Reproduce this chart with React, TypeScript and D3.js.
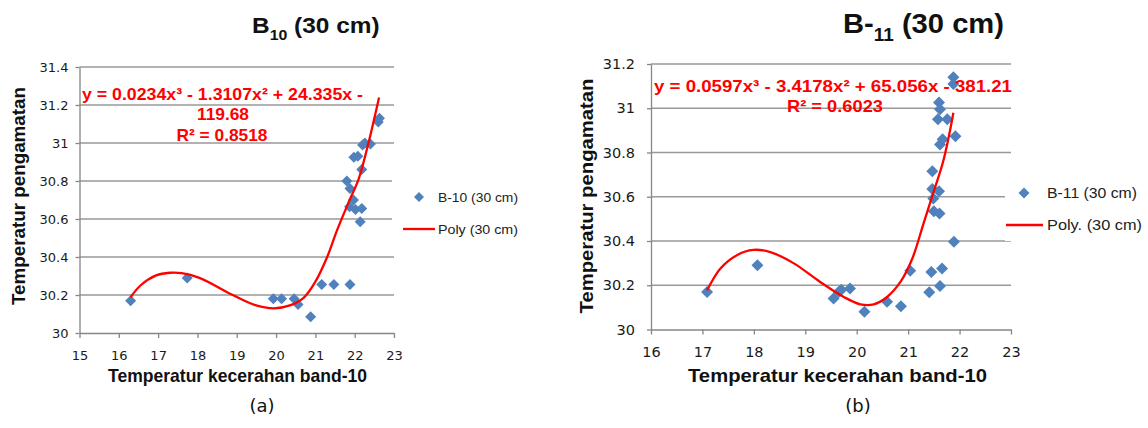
import React, { useEffect, useRef } from "react";
import { axisBottom, axisLeft, curveCatmullRom, line, scaleLinear, select } from "d3";

// ---- data ----
const X_TICKS_10 = [15, 16, 17, 18, 19, 20, 21, 22, 23];
const Y_TICKS_10 = [30, 30.2, 30.4, 30.6, 30.8, 31, 31.2, 31.4];
const X_TICKS_11 = [16, 17, 18, 19, 20, 21, 22, 23];
const Y_TICKS_11 = [30, 30.2, 30.4, 30.6, 30.8, 31, 31.2];

const B10: [number, number][] = [
  [16.3, 30.17], [17.74, 30.29], [19.93, 30.18], [20.14, 30.18], [20.46, 30.18],
  [20.56, 30.15], [20.88, 30.085], [21.16, 30.255], [21.47, 30.255], [21.88, 30.255],
  [21.8, 30.8], [21.88, 30.76], [21.97, 30.7], [21.87, 30.665], [22.02, 30.65],
  [22.18, 30.655], [22.14, 30.585], [22.18, 30.86], [21.98, 30.925], [22.08, 30.93],
  [22.2, 30.99], [22.26, 31.0], [22.4, 30.995], [22.6, 31.11], [22.63, 31.13],
];

const POLY10: [number, number][] = [
  [16.3, 30.188], [16.55, 30.25], [16.95, 30.303], [17.3, 30.317], [17.6, 30.315],
  [18.05, 30.29], [18.9, 30.2], [19.45, 30.148], [19.95, 30.13], [20.35, 30.145],
  [20.7, 30.185], [21.0, 30.27], [21.3, 30.4], [21.55, 30.54], [21.85, 30.69],
  [22.1, 30.81], [22.35, 31.0], [22.62, 31.24],
];

const B11: [number, number][] = [
  [17.09, 30.17], [18.07, 30.29], [19.55, 30.14], [19.65, 30.17], [19.7, 30.18],
  [19.87, 30.185], [20.15, 30.08], [20.59, 30.125], [20.86, 30.105], [21.04, 30.265],
  [21.41, 30.168], [21.45, 30.26], [21.62, 30.197], [21.66, 30.276], [21.89, 30.397],
  [21.5, 30.535], [21.61, 30.524], [21.49, 30.592], [21.47, 30.635], [21.6, 30.625],
  [21.47, 30.715], [21.62, 30.836], [21.67, 30.86], [21.92, 30.874], [21.58, 30.95],
  [21.76, 30.95], [21.62, 30.995], [21.6, 31.026], [21.88, 31.11], [21.88, 31.14],
];

const POLY11: [number, number][] = [
  [17.09, 30.177], [17.35, 30.276], [17.67, 30.336], [17.99, 30.36], [18.32, 30.35],
  [18.77, 30.3], [19.29, 30.215], [19.75, 30.147], [20.07, 30.114], [20.33, 30.114],
  [20.59, 30.147], [20.85, 30.215], [21.08, 30.32], [21.3, 30.48], [21.5, 30.625],
  [21.67, 30.75], [21.78, 30.86], [21.88, 30.98],
];

const BLUE = "#4f81bd";
const RED = "#ff0000";
const GRID = "#999999";
const AXIS = "#868686";

const diamond = (cx: number, cy: number, r: number) =>
  `M${cx},${cy - r}L${cx + r},${cy}L${cx},${cy + r}L${cx - r},${cy}Z`;

function Panel({ cfg }: { cfg: any }) {
  const xAxisRef = useRef<SVGGElement>(null);
  const yAxisRef = useRef<SVGGElement>(null);

  const x = scaleLinear().domain(cfg.xDomain).range(cfg.xRange);
  const y = scaleLinear().domain(cfg.yDomain).range(cfg.yRange);
  const poly = line<[number, number]>()
    .x((d) => x(d[0]))
    .y((d) => y(d[1]))
    .curve(curveCatmullRom.alpha(0.5));

  useEffect(() => {
    const fmt = (d: any) => String(+(+d).toFixed(1));
    const gx = select(xAxisRef.current);
    gx.selectAll("*").remove();
    gx.call(
      axisBottom(x).tickValues(cfg.xTicks).tickSize(5).tickSizeOuter(0).tickPadding(cfg.xPad).tickFormat(fmt)
    );
    const gy = select(yAxisRef.current);
    gy.selectAll("*").remove();
    gy.call(
      axisLeft(y).tickValues(cfg.yTicks).tickSize(4).tickSizeOuter(0).tickPadding(cfg.yPad).tickFormat(fmt)
    );
    [gx, gy].forEach((g) => {
      g.select(".domain").attr("stroke", AXIS).attr("stroke-width", 1.3);
      g.selectAll(".tick line").attr("stroke", AXIS).attr("stroke-width", 1.3);
      g.selectAll(".tick text")
        .attr("fill", "#1a1a1a")
        .style("font-family", "'DejaVu Sans', Verdana, sans-serif")
        .style("font-size", cfg.tickFont + "px");
    });
  }, []);

  const [x0, x1] = cfg.xRange;
  const [yb] = cfg.yRange;

  return (
    <g>
      {/* gridlines */}
      {cfg.yTicks.slice(1).map((t: number) => (
        <line key={t} x1={x0} x2={x1} y1={y(t)} y2={y(t)} stroke={GRID} strokeWidth={1.3} />
      ))}
      <g ref={xAxisRef} transform={`translate(0,${yb})`} />
      <g ref={yAxisRef} transform={`translate(${x0},0)`} />

      {/* markers */}
      {cfg.points.map((d: [number, number], i: number) => (
        <path key={i} d={diamond(x(d[0]), y(d[1]), cfg.r)} fill={BLUE} />
      ))}
      <path d={poly(cfg.poly) || ""} fill="none" stroke={RED} strokeWidth={2.3} />

      {/* legend */}
      <rect x={cfg.legX} y={cfg.legY - 22} width={150} height={70} fill="white" />
      <path d={diamond(cfg.legDX, cfg.legY, cfg.r - 0.5)} fill={BLUE} />
      <text
        x={cfg.legTX}
        y={cfg.legY + 5}
        fontFamily="'Liberation Sans', Arial, sans-serif"
        fontSize={cfg.legFont}
        fill="#222"
        textLength={cfg.legLen1}
        lengthAdjust="spacingAndGlyphs"
      >
        {cfg.legText1}
      </text>
      <line x1={cfg.legL1} x2={cfg.legL2} y1={cfg.legY + 32} y2={cfg.legY + 32} stroke={RED} strokeWidth={2.3} />
      <text
        x={cfg.legTX}
        y={cfg.legY + 37}
        fontFamily="'Liberation Sans', Arial, sans-serif"
        fontSize={cfg.legFont}
        fill="#222"
        textLength={cfg.legLen2}
        lengthAdjust="spacingAndGlyphs"
      >
        {cfg.legText2}
      </text>

      {/* equation */}
      {cfg.eq.map((e: any, i: number) => (
        <text
          key={i}
          x={e.x}
          y={e.y}
          textAnchor={e.anchor}
          fill={RED}
          fontWeight="bold"
          fontFamily="'Liberation Sans', Arial, sans-serif"
          fontSize={cfg.eqFont}
          textLength={e.len}
          lengthAdjust="spacingAndGlyphs"
        >
          {e.t}
        </text>
      ))}

      {/* axis titles */}
      <text
        x={cfg.xt.x}
        y={382}
        fontWeight="bold"
        fontFamily="'Liberation Sans', Arial, sans-serif"
        fontSize={18.5}
        fill="#111"
        textLength={cfg.xt.len}
        lengthAdjust="spacingAndGlyphs"
      >
        Temperatur kecerahan band-10
      </text>
      <text
        transform={`translate(${cfg.yt.x},196) rotate(-90)`}
        textAnchor="middle"
        fontWeight="bold"
        fontFamily="'Liberation Sans', Arial, sans-serif"
        fontSize={18.5}
        fill="#111"
        textLength={cfg.yt.len}
        lengthAdjust="spacingAndGlyphs"
      >
        Temperatur pengamatan
      </text>

      {/* title */}
      <text
        transform={`translate(${cfg.title.x},33) scale(${cfg.title.sx},1)`}
        fontWeight="bold"
        fontFamily="'Liberation Sans', Arial, sans-serif"
        fontSize={cfg.title.fs}
        fill="#111"
      >
        {cfg.title.main}
        <tspan fontSize={cfg.title.fs * 0.65} dy={cfg.title.fs * 0.3}>
          {cfg.title.sub}
        </tspan>
        <tspan dy={-cfg.title.fs * 0.3}>{" (30 cm)"}</tspan>
      </text>

      <text
        x={cfg.cap.x}
        y={412}
        textAnchor="middle"
        fontFamily="'DejaVu Sans', sans-serif"
        fontSize={18}
        fill="#111"
      >
        {cfg.cap.t}
      </text>
    </g>
  );
}

const LEFT = {
  xDomain: [15, 23],
  yDomain: [30, 31.4],
  xRange: [79.5, 394],
  yRange: [333, 67],
  xTicks: X_TICKS_10,
  yTicks: Y_TICKS_10,
  points: B10,
  poly: POLY10,
  r: 5.5,
  tickFont: 13,
  xPad: 13,
  yPad: 7,
  legX: 392,
  legY: 197,
  legDX: 419,
  legTX: 438,
  legL1: 403,
  legL2: 435,
  legFont: 13.5,
  legLen1: 80,
  legLen2: 80,
  legText1: "B-10 (30 cm)",
  legText2: "Poly (30 cm)",
  eqFont: 17,
  eq: [
    { t: "y = 0.0234x³ - 1.3107x²  + 24.335x -", x: 82, y: 100, anchor: "start", len: 281 },
    { t: "119.68", x: 223, y: 120, anchor: "middle", len: 52 },
    { t: "R² = 0.8518", x: 222, y: 141, anchor: "middle", len: 91 },
  ],
  xt: { x: 108, len: 259 },
  yt: { x: 25, len: 218 },
  title: { x: 252, sx: 1.11, fs: 22, main: "B", sub: "10" },
  cap: { x: 262, t: "(a)" },
};

const RIGHT = {
  xDomain: [16, 23],
  yDomain: [30, 31.2],
  xRange: [651, 1011],
  yRange: [329.5, 64],
  xTicks: X_TICKS_11,
  yTicks: Y_TICKS_11,
  points: B11,
  poly: POLY11,
  r: 6,
  tickFont: 14.5,
  xPad: 12,
  yPad: 12,
  legX: 1005,
  legY: 193,
  legDX: 1024,
  legTX: 1047,
  legL1: 1006,
  legL2: 1043,
  legFont: 14.5,
  legLen1: 90,
  legLen2: 95,
  legText1: "B-11 (30 cm)",
  legText2: "Poly. (30 cm)",
  eqFont: 17,
  eq: [
    { t: "y = 0.0597x³ - 3.4178x² + 65.056x - 381.21", x: 654, y: 92, anchor: "start", len: 358 },
    { t: "R² = 0.6023", x: 835, y: 112, anchor: "middle", len: 96 },
  ],
  xt: { x: 688, len: 299 },
  yt: { x: 593, len: 235 },
  title: { x: 843, sx: 1.08, fs: 27, main: "B-", sub: "11" },
  cap: { x: 858, t: "(b)" },
};

export default function App() {
  return (
    <svg
      width={1148}
      height={428}
      style={{ position: "absolute", left: 0, top: 0, background: "white" }}
    >
      <rect width={1148} height={428} fill="white" />
      <Panel cfg={LEFT} />
      <Panel cfg={RIGHT} />
    </svg>
  );
}
